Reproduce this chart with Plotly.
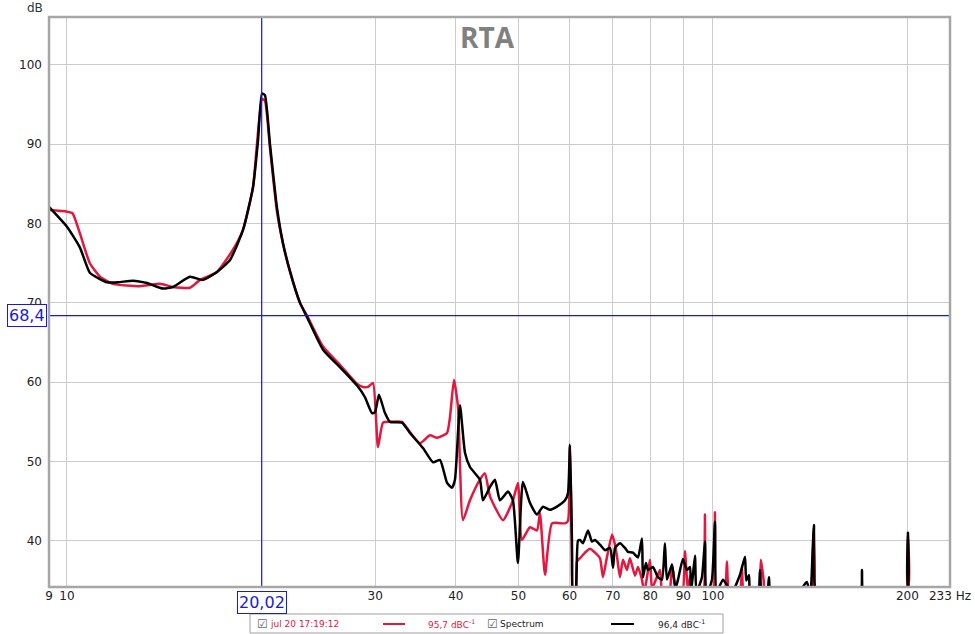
import math
import plotly.graph_objects as go

# --- Data -------------------------------------------------------------------
# measurement "jul 20 17:19:12" (red)
red_freq = [9.38, 10.0, 10.2, 10.47, 10.85, 11.25, 11.79, 12.97, 13.93, 14.59, 15.5, 16.07,
            17.07, 18.07, 18.73, 19.41, 20.04, 20.25, 20.62, 21.14, 21.6, 22.14, 22.95, 23.53,
            24.91, 26.46, 28.11, 28.72, 29.24, 29.77, 30.3, 30.85, 31.62, 33.01, 33.61, 35.19,
            36.47, 37.4, 38.76, 39.17, 39.73, 40.3, 41.02, 42.06, 43.58, 44.37, 45.17, 47.31,
            49.02, 49.9, 50.61, 52.08, 53.41, 53.98, 54.96, 56.35, 59.02, 59.65, 60.07, 60.5,
            60.71, 61.3, 61.59, 62.26, 63.38, 64.52, 65.68, 66.86, 67.58, 68.56, 69.8, 70.54,
            71.05, 71.79, 72.57, 73.61, 74.39, 75.74, 76.55, 77.65, 78.3, 79.89, 80.5, 82.79,
            83.5, 85.6, 86.42, 87.8, 89.7, 90.5, 91.5, 92.14, 93.0, 96.5, 97.19, 97.7, 100.0,
            100.72, 101.3, 104.2, 105.12, 106.0, 110.0, 110.9, 111.7, 117.6, 118.68, 119.8,
            120.5, 142.4, 143.32, 144.0, 199.2, 200.4, 201.5, 232.8]
red_db = [81.7, 81.5, 81.3, 78.8, 75.0, 73.3, 72.4, 72.1, 72.4, 72.0, 71.9, 72.9,
          73.9, 76.7, 79.2, 84.6, 95.7, 95.5, 89.5, 81.5, 77.5, 74.0, 70.0, 68.4,
          64.5, 62.2, 59.8, 59.4, 59.4, 59.9, 51.8, 54.9, 55.0, 55.0, 54.2, 52.3,
          53.3, 53.0, 53.6, 55.6, 60.3, 56.9, 42.6, 45.1, 47.7, 48.5, 45.6, 42.6,
          45.1, 47.3, 40.1, 41.7, 41.3, 43.5, 35.7, 42.2, 42.2, 42.5, 51.8, 38.0,
          33.0, 33.0, 37.4, 37.8, 38.5, 39.0, 38.5, 37.8, 35.4, 38.0, 40.8, 39.5,
          38.0, 35.4, 37.6, 36.3, 37.8, 35.6, 36.7, 35.1, 33.5, 37.6, 34.0, 36.3,
          33.5, 33.5, 37.0, 33.5, 33.5, 38.7, 33.5, 35.5, 33.5, 33.5, 43.3, 33.5, 33.5,
          43.6, 33.5, 33.5, 37.4, 33.5, 33.5, 36.7, 33.5, 33.5, 37.6, 35.0,
          33.5, 33.0, 41.0, 33.0, 33.0, 40.5, 33.0, 33.0]

# "Spectrum" (black)
black_freq = [9.38, 10.0, 10.47, 10.85, 11.25, 11.53, 12.0, 12.65, 13.3, 14.08, 14.59, 15.5,
              16.24, 17.07, 17.88, 18.73, 19.41, 19.76, 20.04, 20.25, 20.62, 21.14, 21.6, 22.14,
              22.95, 23.53, 24.91, 26.46, 28.11, 28.93, 29.66, 29.98, 30.41, 31.07, 31.62, 33.01,
              33.96, 35.57, 36.87, 37.8, 38.76, 39.45, 39.87, 40.59, 41.32, 42.06, 43.58, 44.06,
              45.17, 45.98, 46.81, 48.16, 49.02, 49.9, 50.8, 52.08, 53.41, 54.56, 55.95, 57.36,
              59.02, 59.65, 60.07, 60.5, 60.71, 61.3, 61.81, 62.26, 62.93, 64.06, 64.98, 65.68,
              66.86, 68.07, 69.3, 70.04, 70.54, 71.79, 73.09, 73.86, 75.19, 76.55, 77.65, 77.92,
              78.76, 79.32, 80.74, 82.2, 83.38, 84.27, 84.88, 86.42, 87.5, 88.29, 89.86, 91.16,
              92.14, 92.5, 93.79, 94.3, 96.16, 97.19, 97.6, 99.65, 100.72, 101.3, 103.63, 105.0,
              107.0, 110.11, 112.1, 112.6, 113.7, 114.3, 117.4, 118.26, 119.0, 121.3, 122.12,
              123.0, 136.5, 137.32, 139.8, 141.5, 143.32, 145.0, 169.0, 170.1, 171.3, 199.0,
              200.4, 201.8, 232.8]
black_db = [82.1, 79.6, 77.0, 73.8, 73.0, 72.6, 72.6, 72.8, 72.5, 71.8, 72.0, 73.3,
            72.9, 73.9, 75.4, 79.2, 84.6, 90.5, 96.4, 96.2, 90.0, 82.0, 77.5, 74.0,
            70.0, 68.2, 64.1, 61.9, 59.6, 58.1, 56.1, 56.2, 58.4, 56.1, 55.0, 54.9,
            53.6, 51.7, 49.9, 50.2, 47.3, 46.7, 47.7, 57.1, 51.1, 49.3, 47.7, 45.1,
            46.8, 47.7, 45.1, 46.2, 45.1, 37.2, 47.4, 44.8, 43.3, 44.3, 43.9, 44.3,
            45.1, 46.0, 52.1, 40.0, 33.0, 33.5, 40.0, 40.1, 39.7, 41.3, 39.9, 40.1,
            39.5, 38.8, 39.1, 36.6, 39.1, 39.7, 39.1, 38.6, 38.5, 37.9, 40.3, 35.4,
            37.2, 36.3, 36.7, 35.4, 35.1, 39.7, 35.1, 37.0, 34.0, 35.1, 37.7, 36.3,
            36.7, 33.5, 38.1, 33.5, 35.4, 39.9, 33.0, 35.1, 42.4, 33.5, 35.1, 34.5,
            33.5, 35.7, 38.0, 35.0, 35.7, 33.0, 33.0, 36.3, 33.5, 33.5, 35.4,
            33.0, 33.0, 34.0, 34.8, 33.0, 42.0, 33.0, 33.0, 36.3, 33.0, 33.0,
            41.0, 33.0, 33.0]

# axes
x_min, x_max = 9.38, 232.8
y_min, y_max = 34.17, 106.05
x_tickvals = [9.38, 10, 20, 30, 40, 50, 60, 70, 80, 90, 100, 200, 232.8]
x_ticktext = ["9", "10", "", "30", "40", "50", "60", "70", "80", "90", "100", "200", "233 Hz"]
y_tickvals = [40, 50, 60, 70, 80, 90, 100]

# cursor
cursor_freq = 20.02
cursor_db = 68.4

RED = "#e3173f"
BLUE = "#1a1ad6"
FONT = "DejaVu Sans"

# --- Figure -----------------------------------------------------------------
fig = go.Figure()
fig.add_trace(go.Scatter(x=red_freq, y=red_db, mode="lines", name="jul 20 17:19:12",
                         line=dict(color=RED, width=2.5, shape="spline", smoothing=0.5),
                         showlegend=False))
fig.add_trace(go.Scatter(x=black_freq, y=black_db, mode="lines", name="Spectrum",
                         line=dict(color="black", width=2.5, shape="spline", smoothing=0.5),
                         showlegend=False))

# cursor cross
fig.add_shape(type="line", xref="x", yref="y domain", x0=cursor_freq, x1=cursor_freq, y0=0, y1=1,
              line=dict(color=BLUE, width=1.2))
fig.add_shape(type="line", xref="x domain", yref="y", x0=0, x1=1, y0=cursor_db, y1=cursor_db,
              line=dict(color=BLUE, width=1.2))

# plot frame
fig.add_shape(type="rect", xref="paper", yref="paper", x0=0, x1=1, y0=0, y1=1,
              line=dict(color="#a6a6a6", width=2.5), layer="above")

annotations = [
    dict(text="RTA", xref="paper", yref="paper", x=0.487, y=0.965, yanchor="middle",
         showarrow=False, font=dict(family="Open Sans", size=28, color="#808080", weight="bold")),
    dict(text="dB", xref="paper", yref="paper", x=0, y=1, xanchor="right", yanchor="bottom",
         xshift=-4, yshift=0, showarrow=False, font=dict(family=FONT, size=12, color="#333")),
    dict(text=f"{cursor_freq:.2f}".replace(".", ","), xref="x", yref="paper",
         x=math.log10(cursor_freq), y=0, yanchor="top", yshift=-4, showarrow=False,
         bgcolor="white", bordercolor=BLUE, borderwidth=1, borderpad=1,
         font=dict(family=FONT, size=16, color=BLUE)),
    dict(text=f"{cursor_db:.1f}".replace(".", ","), xref="paper", yref="y",
         x=0, y=cursor_db, xanchor="right", xshift=-2, showarrow=False,
         bgcolor="white", bordercolor=BLUE, borderwidth=1, borderpad=1,
         font=dict(family=FONT, size=16, color=BLUE)),
]

# custom legend strip under the plot (positions in window pixels)
def px_x(p):
    return (p - 49) / 901

def px_y(p):
    return (587 - p) / 570

fig.add_shape(type="rect", xref="paper", yref="paper", x0=px_x(250), x1=px_x(723),
              y0=px_y(633), y1=px_y(614), line=dict(color="#a0a0a0", width=1), fillcolor="white")
leg_y = px_y(624)
fig.add_shape(type="line", xref="paper", yref="paper", x0=px_x(383), x1=px_x(405),
              y0=leg_y, y1=leg_y, line=dict(color=RED, width=2))
fig.add_shape(type="line", xref="paper", yref="paper", x0=px_x(611), x1=px_x(634),
              y0=leg_y, y1=leg_y, line=dict(color="black", width=2))
legend_items = [
    (255, "☑", "#667"),
    (268, "jul 20 17:19:12", RED),
    (426, "95,7 dBC<sup>-1</sup>", RED),
    (485, "☑", "#667"),
    (498, "Spectrum", "#222"),
    (656, "96,4 dBC<sup>-1</sup>", "#222"),
]
for px, txt, col in legend_items:
    annotations.append(dict(text=txt, xref="paper", yref="paper", x=px_x(px), y=leg_y,
                            xanchor="left", yanchor="middle", showarrow=False,
                            font=dict(family=FONT, size=9 if txt != "☑" else 12, color=col)))

fig.update_layout(
    width=975, height=634,
    margin=dict(l=49, r=25, t=17, b=47),
    paper_bgcolor="white", plot_bgcolor="white",
    annotations=annotations,
    showlegend=False,
)
fig.update_xaxes(type="log", range=[math.log10(x_min), math.log10(x_max)],
                 tickmode="array", tickvals=x_tickvals, ticktext=x_ticktext,
                 showgrid=True, gridcolor="#cccccc", gridwidth=1, zeroline=False,
                 showline=False, ticks="", automargin=False,
                 tickfont=dict(family=FONT, size=12, color="#222"))
fig.update_yaxes(range=[y_min, y_max], tickmode="array", tickvals=y_tickvals,
                 showgrid=True, gridcolor="#cccccc", gridwidth=1, zeroline=False,
                 showline=False, ticks="", ticklabelstandoff=6, automargin=False,
                 tickfont=dict(family=FONT, size=12, color="#222"))

# drop the default 8 px body margin so the figure fills the window exactly
fig.write_html("out.html", config={"displayModeBar": False},
               post_script="document.body.style.margin='0px';")
